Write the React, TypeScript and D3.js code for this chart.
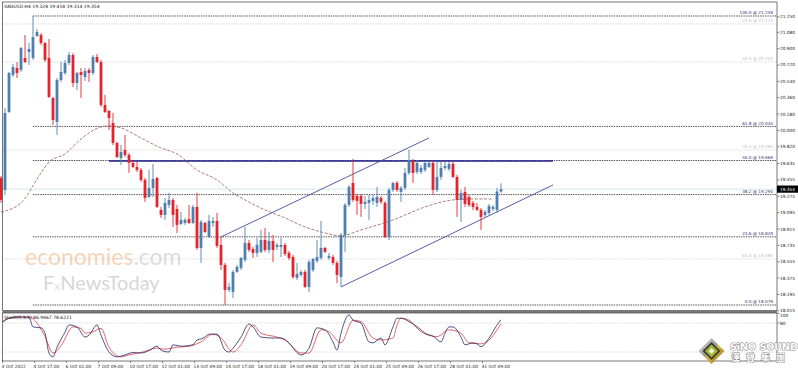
import React from "react";
import * as d3 from "d3";

// XAGUSD H4 candles (bar 0 = 3 Oct 09:00)
const opens = [
  19.477, 19.345, 20.203, 20.61, 20.687, 20.665, 20.797, 20.863, 20.797, 21.039,
  21.05, 20.962, 20.797, 20.357, 20.093, 20.555, 20.632, 20.742, 20.83, 20.522,
  20.643, 20.588, 20.665, 20.632, 20.808, 20.753, 20.28, 20.214, 20.082, 19.862,
  19.697, 19.785, 19.73, 19.642, 19.598, 19.565, 19.455, 19.268, 19.367, 19.477,
  19.125, 19.07, 19.18, 19.235, 19.136, 18.971, 18.982, 19.026, 18.982, 19.158,
  18.707, 18.982, 18.828, 18.982, 19.004, 18.74, 18.52, 18.245, 18.223, 18.443,
  18.487, 18.575, 18.762, 18.696, 18.652, 18.663, 18.795, 18.685, 18.784, 18.718,
  18.718, 18.74, 18.652, 18.608, 18.377, 18.41, 18.443, 18.278, 18.465, 18.564,
  18.597, 18.707, 18.597, 18.608, 18.542, 18.388, 18.85, 19.18, 19.422, 19.279,
  19.279, 19.191, 19.202, 19.224, 19.202, 19.257, 19.202, 18.828, 19.345, 19.422,
  19.323, 19.367, 19.532, 19.664, 19.543, 19.543, 19.565, 19.598, 19.642, 19.345,
  19.488, 19.587, 19.576, 19.631, 19.488, 19.235, 19.323, 19.268, 19.202, 19.158,
  19.125, 19.07, 19.092, 19.136, 19.125, 19.328,
];
const highs = [
  19.499, 20.247, 20.643, 20.731, 20.753, 20.918, 21.05, 20.962, 21.259, 21.116,
  21.072, 20.973, 21.006, 20.368, 20.577, 20.753, 20.775, 20.863, 20.852, 20.643,
  20.687, 20.687, 20.687, 20.83, 20.841, 20.775, 20.39, 20.225, 20.192, 19.873,
  19.84, 19.95, 19.752, 19.675, 19.653, 19.587, 19.477, 19.565, 19.631, 19.488,
  19.158, 19.257, 19.312, 19.257, 19.18, 19.103, 19.037, 19.18, 19.18, 19.312,
  19.015, 18.993, 19.07, 19.048, 19.092, 18.828, 18.542, 18.322, 18.465, 18.52,
  18.608, 18.938, 18.795, 18.718, 18.817, 18.905, 18.927, 18.883, 18.85, 18.762,
  18.817, 18.762, 18.674, 18.63, 18.542, 18.465, 18.465, 18.575, 18.597, 18.795,
  19.004, 18.718, 18.652, 18.63, 18.564, 18.872, 19.202, 19.4, 19.686, 19.301,
  19.301, 19.279, 19.29, 19.29, 19.378, 19.279, 19.224, 19.367, 19.433, 19.444,
  19.389, 19.587, 19.785, 19.686, 19.675, 19.62, 19.664, 19.664, 19.664, 19.653,
  19.653, 19.653, 19.653, 19.653, 19.51, 19.345, 19.378, 19.29, 19.224, 19.202,
  19.147, 19.125, 19.191, 19.18, 19.367, 19.418,
];
const lows = [
  19.202, 19.29, 20.192, 20.588, 20.577, 20.643, 20.742, 20.72, 20.775, 21.028,
  20.94, 20.753, 20.357, 20.06, 19.95, 20.533, 20.61, 20.72, 20.478, 20.445,
  20.357, 20.544, 20.533, 20.61, 20.742, 20.258, 20.192, 20.005, 19.84, 19.697,
  19.62, 19.708, 19.532, 19.587, 19.543, 19.433, 19.213, 19.257, 19.268, 19.147,
  19.037, 19.015, 19.147, 18.938, 18.872, 18.96, 18.96, 18.971, 18.971, 18.685,
  18.542, 18.872, 18.817, 18.938, 18.707, 18.465, 18.079, 18.223, 18.157, 18.432,
  18.465, 18.553, 18.663, 18.597, 18.608, 18.652, 18.663, 18.652, 18.553, 18.685,
  18.608, 18.619, 18.575, 18.366, 18.355, 18.388, 18.267, 18.223, 18.443, 18.542,
  18.575, 18.652, 18.575, 18.52, 18.322, 18.278, 18.663, 19.158, 19.213, 19.07,
  19.048, 19.136, 19.015, 19.18, 19.158, 19.191, 18.817, 18.795, 19.323, 19.323,
  19.213, 19.345, 19.51, 19.422, 19.521, 19.521, 19.543, 19.587, 19.29, 19.323,
  19.455, 19.565, 19.554, 19.477, 19.048, 18.993, 19.158, 19.158, 19.125, 19.114,
  18.905, 19.048, 19.07, 19.114, 19.092, 19.314,
];
const closes = [
  19.235, 20.192, 20.632, 20.698, 20.632, 20.907, 20.753, 20.896, 21.028, 21.083,
  20.962, 20.775, 20.368, 20.115, 20.555, 20.643, 20.742, 20.83, 20.522, 20.632,
  20.61, 20.654, 20.632, 20.808, 20.753, 20.28, 20.203, 20.137, 19.862, 19.708,
  19.763, 19.73, 19.642, 19.598, 19.565, 19.455, 19.257, 19.367, 19.466, 19.158,
  19.07, 19.202, 19.235, 19.07, 18.96, 19.015, 19.015, 18.982, 19.158, 18.707,
  18.993, 18.883, 19.004, 19.004, 18.729, 18.52, 18.245, 18.278, 18.443, 18.498,
  18.597, 18.762, 18.685, 18.652, 18.74, 18.795, 18.685, 18.784, 18.685, 18.74,
  18.74, 18.641, 18.597, 18.388, 18.421, 18.443, 18.278, 18.553, 18.586, 18.608,
  18.707, 18.663, 18.619, 18.542, 18.41, 18.85, 19.18, 19.378, 19.235, 19.224,
  19.191, 19.213, 19.235, 19.257, 19.268, 19.213, 18.828, 19.345, 19.422, 19.345,
  19.367, 19.532, 19.675, 19.532, 19.642, 19.587, 19.642, 19.642, 19.345, 19.488,
  19.587, 19.609, 19.631, 19.488, 19.235, 19.312, 19.191, 19.18, 19.158, 19.125,
  19.048, 19.103, 19.169, 19.158, 19.328, 19.354,
];

// moving average, sampled as [bar, price]
const maPoints: [number, number][] = [
  [0, 19.102], [5, 19.202], [10, 19.532], [12, 19.653], [16, 19.741], [20, 19.906],
  [25, 20.038], [27, 20.049], [30, 20.027], [35, 19.917], [40, 19.807], [44, 19.741],
  [49, 19.565], [54, 19.455], [58, 19.312], [61, 19.235], [66, 19.125], [71, 19.037],
  [76, 18.938], [81, 18.872], [85, 18.839], [90, 18.905], [98, 19.015], [106, 19.158],
  [113, 19.235], [118, 19.246], [123, 19.246],
];

// stochastic %K and %D, sampled as [bar, value]
const stochMain: [number, number][] = [
  [0, 79], [2, 90], [4, 93], [7, 92], [8, 72], [10, 70], [11, 59], [12, 18], [13, 10],
  [14, 30], [16, 61], [17, 76], [19, 72], [21, 51], [22, 55], [24, 76], [25, 55], [27, 20],
  [29, 10], [31, 14], [33, 19], [35, 18], [37, 23], [39, 32], [40, 24], [42, 20], [43, 35],
  [45, 32], [48, 35], [49, 45], [50, 47], [51, 51], [52, 57], [54, 57], [56, 24], [57, 20],
  [58, 28], [60, 51], [62, 78], [63, 72], [65, 51], [68, 49], [70, 49], [72, 39], [74, 19],
  [75, 14], [77, 28], [79, 70], [81, 66], [83, 41], [84, 24], [85, 59], [87, 97], [88, 86],
  [90, 80], [92, 41], [93, 39], [95, 49], [96, 35], [98, 72], [99, 90], [100, 90], [102, 83],
  [105, 66], [106, 59], [108, 53], [110, 41], [111, 59], [112, 72], [113, 72], [115, 51],
  [116, 35], [118, 39], [119, 37], [120, 31], [122, 49], [124, 76], [125, 86.9],
];
const stochSignal: [number, number][] = [
  [0, 81], [2, 90], [7, 93], [9, 80], [11, 52], [13, 18], [15, 33], [18, 72], [20, 69],
  [21, 59], [23, 62], [25, 69], [27, 30], [30, 10], [32, 14], [35, 19], [39, 28], [41, 26],
  [44, 30], [47, 32], [50, 41], [53, 57], [55, 49], [58, 20], [60, 35], [63, 76], [65, 59],
  [69, 51], [71, 45], [75, 18], [77, 18], [80, 66], [82, 62], [85, 39], [88, 86], [90, 83],
  [93, 49], [95, 45], [98, 49], [99, 76], [100, 90], [102, 86], [105, 62], [109, 52],
  [112, 66], [115, 59], [117, 39], [120, 37], [121, 39], [125, 78.6],
];

const timeTicks: [number, string][] = [
  [0, "3 Oct 2022"], [8, "4 Oct 17:00"], [16, "6 Oct 01:00"], [24, "7 Oct 09:00"],
  [32, "10 Oct 17:00"], [40, "12 Oct 01:00"], [48, "13 Oct 09:00"], [56, "14 Oct 17:00"],
  [64, "18 Oct 01:00"], [72, "19 Oct 09:00"], [80, "20 Oct 17:00"], [88, "24 Oct 01:00"],
  [96, "25 Oct 09:00"], [104, "26 Oct 17:00"], [112, "28 Oct 01:00"], [120, "31 Oct 09:00"],
];
const priceTicks = [
  21.25, 21.08, 20.9, 20.72, 20.54, 20.36, 20.18, 20.0, 19.82, 19.635, 19.455,
  19.275, 19.095, 18.915, 18.735, 18.555, 18.375, 18.195, 18.015,
];
const stochTicks = [100, 80];

const fibMain: [string, number][] = [
  ["100.0", 21.259], ["61.8", 20.044], ["50.0", 19.669], ["38.2", 19.294], ["23.6", 18.829], ["0.0", 18.079],
];
const fibFaint: [string, number][] = [
  ["23.6", 21.171], ["50.0", 20.753], ["76.4", 19.785], ["61.8", 18.586],
];
const fibStartBar = 8;

const channelUpper: [number, number][] = [[55, 18.828], [107, 19.917]];
const channelLower: [number, number][] = [[85, 18.278], [138, 19.4]];
const resistance = { from: 27, to: 138, value: 19.664 };
const lastPrice = 19.354;
const header = "XAGUSD,H4 19.328 19.418 19.314 19.354";
const stochLabel = "Stoch(5,3,3) 86.9467 78.6221";

const W = 798;
const H = 372;
const left = 2.5;
const right = 777;
const mainTop = 2;
const mainBottom = 310.5;
const stochTop = 313;
const stochBottom = 361;

const UP = "#4f7fae";
const DOWN = "#e3242b";
const FONT = "DejaVu Sans";

export default function App() {
  const x = d3.scaleLinear().domain([0, 193.5]).range([1, 775]);
  const y = d3.scaleLinear().domain([18.079, 21.259]).range([305, 16]);
  const ys = d3.scaleLinear().domain([0, 100]).range([361.7, 313.4]);

  const maLine = d3.line<[number, number]>()
    .x(d => x(d[0])).y(d => y(d[1])).curve(d3.curveMonotoneX);
  const stLine = d3.line<[number, number]>()
    .x(d => x(d[0])).y(d => ys(d[1])).curve(d3.curveMonotoneX);
  const seg = d3.line<[number, number]>().x(d => x(d[0])).y(d => y(d[1]));

  return (
    <svg width={W} height={H} style={{ display: "block" }} fontFamily={FONT}>
      <style>{`body{margin:0}`}</style>
      <defs>
        <clipPath id="mainClip">
          <rect x={0} y={mainTop} width={right} height={mainBottom - mainTop} />
        </clipPath>
        <clipPath id="stClip">
          <rect x={left} y={stochTop} width={right - left} height={stochBottom - stochTop} />
        </clipPath>
        <linearGradient id="gold" x1="0" y1="0" x2="1" y2="1">
          <stop offset="0" stopColor="#e6e6e6" />
          <stop offset="0.45" stopColor="#9a9a9a" />
          <stop offset="0.55" stopColor="#d8b640" />
          <stop offset="1" stopColor="#8a6a10" />
        </linearGradient>
      </defs>
      <rect width={W} height={H} fill="#fff" />

      {/* watermark */}
      <g fontFamily="Lato" opacity={0.6}>
        <text x={25} y={265} fontSize={23} fill="#f2b98c">
          economies<tspan fill="#c8c8c8">.com</tspan>
        </text>
        <text x={43} y={290} fontSize={20} fill="#bdbdbd">
          F<tspan fontSize={12} fill="#cfcfcf">x</tspan>NewsToday
        </text>
      </g>

      <g clipPath="url(#mainClip)">
        {/* faint fib lines */}
        {fibFaint.map(([lvl, v]) => (
          <g key={"ff" + lvl + v}>
            <line x1={left} x2={right} y1={y(v)} y2={y(v)} stroke="#c4c4c4" strokeWidth={0.7} strokeDasharray="1.2,1.2" />
            <text x={773} y={y(v) - 1.6} fontSize={4.2} textAnchor="end" fill="#c0c0c8">{`${lvl} @ ${v.toFixed(3)}`}</text>
          </g>
        ))}
        {/* current price line */}
        <line x1={left} x2={right} y1={y(lastPrice)} y2={y(lastPrice)} stroke="#c8e2ea" strokeWidth={0.8} />
        {/* main fib lines */}
        {fibMain.map(([lvl, v]) => (
          <g key={"fm" + lvl}>
            <line x1={x(fibStartBar)} x2={right} y1={y(v)} y2={y(v)} stroke="#222" strokeWidth={0.8} strokeDasharray="1.4,1" />
            <text x={773} y={y(v) - 1.6} fontSize={4.2} textAnchor="end" fill="#33337a">{`${lvl} @ ${v.toFixed(3)}`}</text>
          </g>
        ))}
        {/* resistance */}
        <line x1={x(resistance.from)} x2={x(resistance.to)} y1={y(resistance.value)} y2={y(resistance.value)} stroke="#20208e" strokeWidth={1.4} />
        {/* channel */}
        <path d={seg(channelUpper) ?? ""} stroke="#4a4a9a" strokeWidth={0.9} fill="none" />
        <path d={seg(channelLower) ?? ""} stroke="#4a4a9a" strokeWidth={0.9} fill="none" />
        {/* moving average */}
        <path d={maLine(maPoints) ?? ""} stroke="#9a5a55" strokeWidth={0.8} strokeDasharray="3,1.6" fill="none" />
        {/* candles */}
        {opens.map((o, i) => {
          const c = closes[i];
          const col = c >= o ? UP : DOWN;
          const cx = x(i);
          const top = y(Math.max(o, c));
          const bot = y(Math.min(o, c));
          return (
            <g key={i}>
              <line x1={cx} x2={cx} y1={y(highs[i])} y2={y(lows[i])} stroke={col} strokeWidth={0.9} />
              <rect x={cx - 1.4} y={top} width={2.8} height={Math.max(1, bot - top)} fill={col} />
            </g>
          );
        })}
      </g>

      {/* header */}
      <text x={4} y={7.6} fontSize={4.5} fill="#111">{header}</text>

      {/* frames */}
      <rect x={left} y={mainTop} width={right - left} height={mainBottom - mainTop} fill="none" stroke="#555" strokeWidth={0.8} />
      <rect x={left} y={mainBottom} width={right - left} height={stochTop - mainBottom} fill="#7a7a7a" />
      <rect x={left} y={stochTop} width={right - left} height={stochBottom - stochTop} fill="none" stroke="#555" strokeWidth={0.8} />

      {/* price axis */}
      {priceTicks.map(v => (
        <g key={"pt" + v}>
          <line x1={right} x2={right + 2.5} y1={y(v)} y2={y(v)} stroke="#444" strokeWidth={0.6} />
          <text x={780} y={y(v) + 1.5} fontSize={4.3} fill="#222">{v.toFixed(3)}</text>
        </g>
      ))}
      <rect x={right} y={y(lastPrice) - 3.6} width={W - right} height={7.2} fill="#000" />
      <text x={780} y={y(lastPrice) + 1.5} fontSize={4.3} fill="#fff">{lastPrice.toFixed(3)}</text>

      {/* stochastic */}
      <g clipPath="url(#stClip)">
        {[80, 20].map(v => (
          <line key={"sl" + v} x1={left} x2={right} y1={ys(v)} y2={ys(v)} stroke="#bdbdbd" strokeWidth={0.6} strokeDasharray="1.2,1.2" />
        ))}
        <path d={stLine(stochSignal) ?? ""} stroke="#e04048" strokeWidth={0.8} fill="none" />
        <path d={stLine(stochMain) ?? ""} stroke="#262a66" strokeWidth={0.8} fill="none" />
      </g>
      <text x={4} y={318.5} fontSize={4.5} fill="#111">{stochLabel}</text>
      {stochTicks.map(v => (
        <g key={"st" + v}>
          <line x1={right} x2={right + 2.5} y1={ys(v)} y2={ys(v)} stroke="#444" strokeWidth={0.6} />
          <text x={780} y={ys(v) + (v === 100 ? 3.5 : 1.5)} fontSize={4.3} fill="#222">{v}</text>
        </g>
      ))}

      {/* time axis */}
      {timeTicks.map(([b, lab]) => (
        <g key={"tt" + b}>
          <line x1={x(b) + 1.5} x2={x(b) + 1.5} y1={stochBottom} y2={stochBottom + 2} stroke="#444" strokeWidth={0.6} />
          <text x={x(b) + 0.5} y={367.5} fontSize={4.4} fill="#222">{lab}</text>
        </g>
      ))}

      {/* SINO SOUND logo */}
      <g transform="translate(711.5,351)">
        <polygon points="0,-13 13,0 0,13 -13,0" fill="url(#gold)" />
        <polygon points="0,-9 9,0 0,9 -9,0" fill="#3c3c34" />
        <polygon points="0,-6.5 6.5,0 0,6.5 -6.5,0" fill="#a4b63a" />
        <polygon points="0,-3 3,0 0,3 -3,0" fill="#eef2d8" />
      </g>
      <g fontFamily="DejaVu Sans" fontWeight="bold" fill="#fff" stroke="#7a7a7a" strokeWidth={0.9} paintOrder="stroke">
        <text x={730} y={349.5} fontSize={9.5}>SiNO SOUND</text>
      </g>
      <g fontFamily="Noto Sans CJK TC" fontWeight="bold" fill="#fff" stroke="#858585" strokeWidth={0.9} paintOrder="stroke" fontSize={9}>
        {["漢", "聲", "集", "團"].map((ch, k) => (
          <text key={ch} x={731 + k * 15} y={361}>{ch}</text>
        ))}
      </g>
    </svg>
  );
}
